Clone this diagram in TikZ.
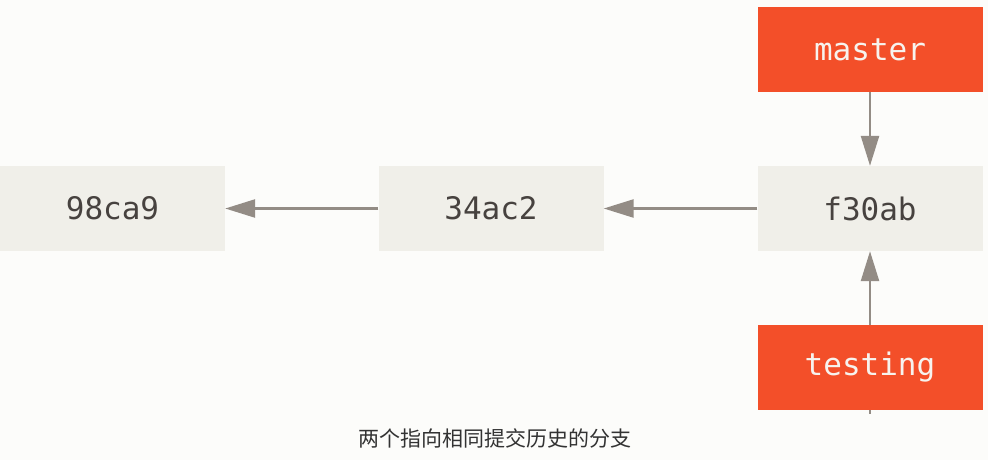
\documentclass[tikz,border=0pt]{standalone}
\usepackage{fontspec}
\setmonofont{DejaVu Sans Mono}
\newfontfamily\cjk{Noto Sans CJK SC}
\usetikzlibrary{arrows.meta}
\definecolor{pagebg}{HTML}{FCFCFA}
\definecolor{commitbg}{HTML}{F0EFE9}
\definecolor{branchbg}{HTML}{F34F29}
\definecolor{linkgray}{HTML}{938C85}
\definecolor{hashtext}{HTML}{47423F}
\definecolor{branchtext}{HTML}{F7F3EE}
\begin{document}
\begin{tikzpicture}[x=1pt, y=1pt,
    commit/.style={fill=commitbg, minimum width=225pt, minimum height=85pt, inner sep=0pt, text=hashtext, font=\ttfamily\fontsize{31}{36}\selectfont},
    branch/.style={commit, fill=branchbg, text=branchtext},
    link/.style={draw=linkgray, line width=2.5pt, -{Triangle[length=30pt, width=18pt]}}]
        \fill[pagebg] (0, 0) rectangle (988, -460);
        \node[commit] (c1) at (112.5, -208.5) {98ca9};
        \node[commit] (c2) at (491, -208.5) {34ac2};
        \node[commit] (c3) at (870, -208.5) {f30ab};
        \node[branch] (master) at (870, -49.5) {master};
        \node[branch] (testing) at (870, -367.5) {testing};
        \coordinate (stub) at (870, -414);
\draw[link] (c2) -- (c1);
\draw[link] (c3) -- (c2);
\draw[link] (master) -- (c3);
\draw[link] (testing) -- (c3);
\draw[draw=linkgray, line width=2.5pt] (testing.south) -- (stub);
	\node[text=black!80, font=\cjk\fontsize{21}{24}\selectfont] (caption) at (495, -438) {两个指向相同提交历史的分支};\end{tikzpicture}
\end{document}
